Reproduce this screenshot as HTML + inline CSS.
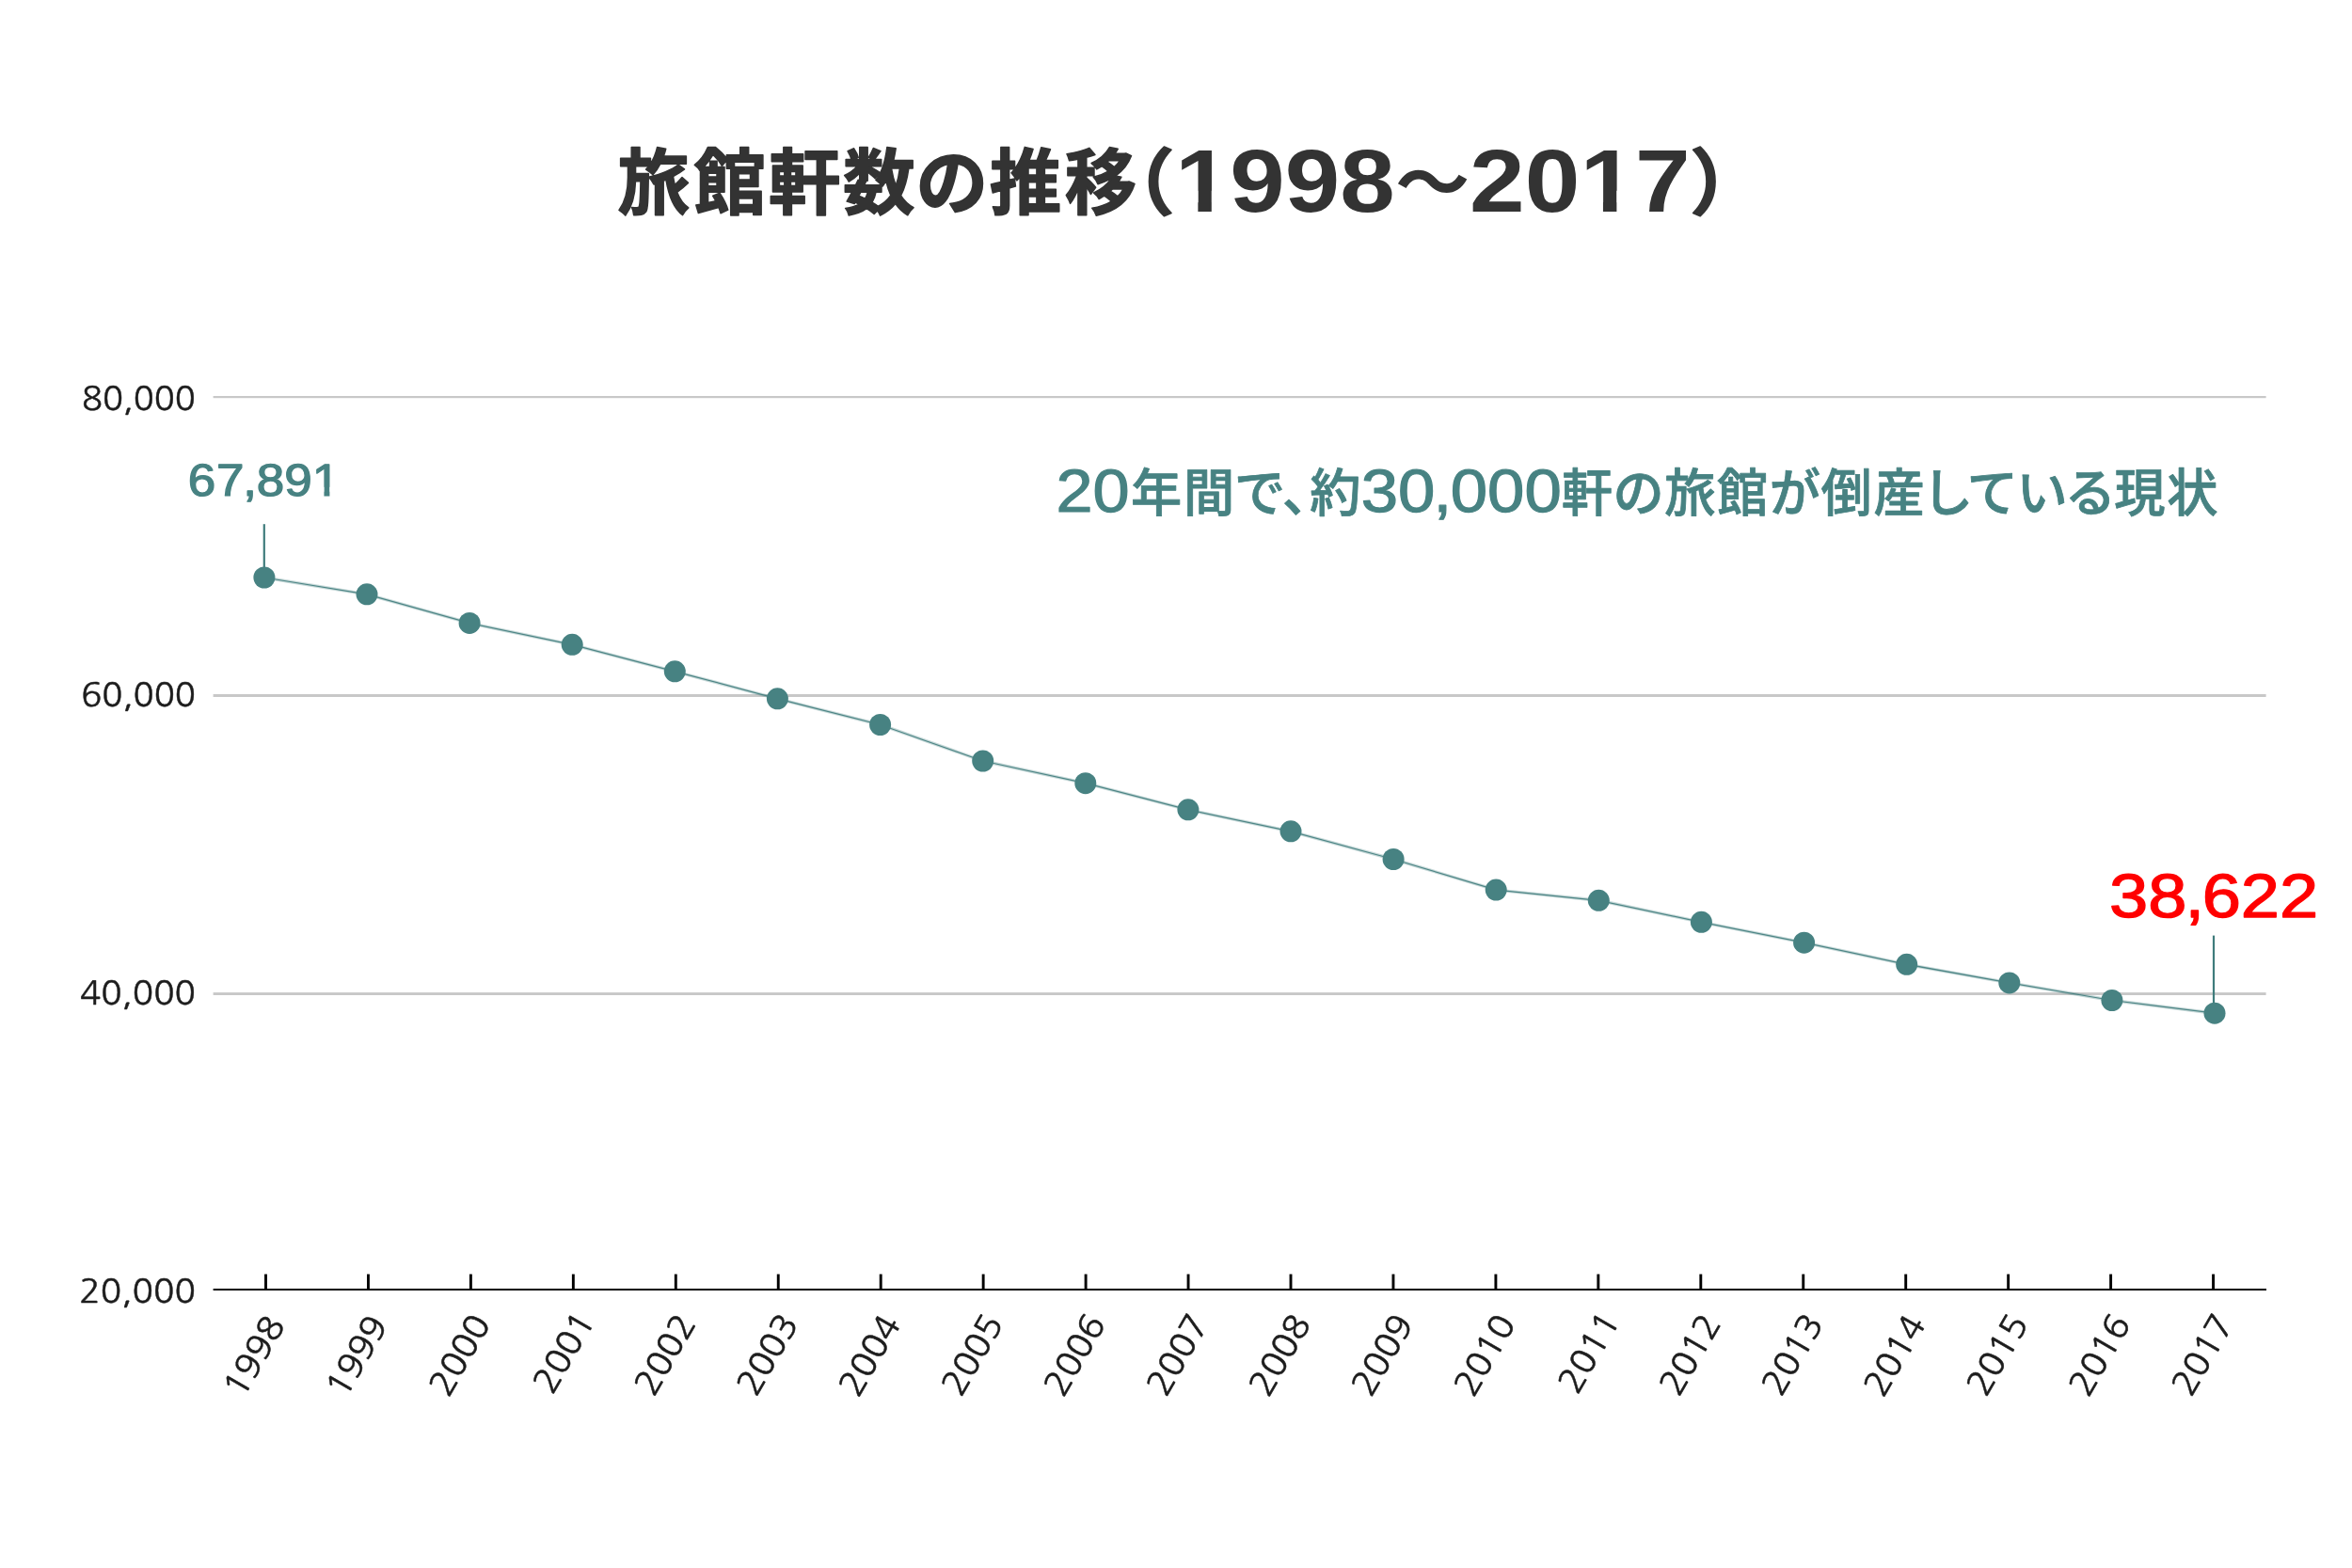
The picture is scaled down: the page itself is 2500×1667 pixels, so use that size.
<!DOCTYPE html>
<html lang="ja">
<head>
<meta charset="utf-8">
<title>旅館軒数の推移（1998〜2017）</title>
<style>
html,body{margin:0;padding:0;background:#fff}
body{width:2500px;height:1667px;overflow:hidden;font-family:"Liberation Sans","Noto Sans CJK JP",sans-serif}
svg{display:block}
text{white-space:pre;text-rendering:geometricPrecision}
</style>
</head>
<body>
<svg width="2500" height="1667" viewBox="0 0 2500 1667">
<defs><filter id="soft" x="-2%" y="-2%" width="104%" height="104%"><feGaussianBlur stdDeviation="0.75"/></filter><filter id="soft2" x="-5%" y="-20%" width="110%" height="140%"><feGaussianBlur stdDeviation="0.55"/></filter></defs>
<rect width="2500" height="1667" fill="#ffffff"/>
<g id="chart">
<g id="grid" fill="#c8c8c8">
<rect x="226.6" y="421.00" width="2182.0" height="2.20"/>
<rect x="226.6" y="738.00" width="2182.0" height="3.00"/>
<rect x="226.6" y="1055.10" width="2182.0" height="2.90"/>
</g>
<g id="axis" fill="#000000">
<rect x="226.6" y="1370.0" width="2182.4" height="1.95"/>
<rect x="281.05" y="1354.6" width="2.9" height="16.4"/>
<rect x="390.00" y="1354.6" width="2.9" height="16.4"/>
<rect x="498.95" y="1354.6" width="2.9" height="16.4"/>
<rect x="607.90" y="1354.6" width="2.9" height="16.4"/>
<rect x="716.85" y="1354.6" width="2.9" height="16.4"/>
<rect x="825.80" y="1354.6" width="2.9" height="16.4"/>
<rect x="934.75" y="1354.6" width="2.9" height="16.4"/>
<rect x="1043.70" y="1354.6" width="2.9" height="16.4"/>
<rect x="1152.65" y="1354.6" width="2.9" height="16.4"/>
<rect x="1261.60" y="1354.6" width="2.9" height="16.4"/>
<rect x="1370.55" y="1354.6" width="2.9" height="16.4"/>
<rect x="1479.50" y="1354.6" width="2.9" height="16.4"/>
<rect x="1588.45" y="1354.6" width="2.9" height="16.4"/>
<rect x="1697.40" y="1354.6" width="2.9" height="16.4"/>
<rect x="1806.35" y="1354.6" width="2.9" height="16.4"/>
<rect x="1915.30" y="1354.6" width="2.9" height="16.4"/>
<rect x="2024.25" y="1354.6" width="2.9" height="16.4"/>
<rect x="2133.20" y="1354.6" width="2.9" height="16.4"/>
<rect x="2242.15" y="1354.6" width="2.9" height="16.4"/>
<rect x="2351.10" y="1354.6" width="2.9" height="16.4"/>
</g>
<polyline points="280.9,614.0 390.0,631.8 499.1,662.4 608.2,685.3 717.3,713.8 826.4,742.8 935.6,770.5 1044.7,809.0 1153.8,832.7 1262.9,860.8 1372.0,883.8 1481.1,913.5 1590.2,946.1 1699.3,957.3 1808.4,980.3 1917.6,1002.2 2026.7,1025.3 2135.8,1044.9 2244.9,1063.5 2354.0,1077.2" fill="none" stroke="#478282" stroke-width="3.4" stroke-opacity="0.30" filter="url(#soft)"/>
<polyline points="280.9,614.0 390.0,631.8 499.1,662.4 608.2,685.3 717.3,713.8 826.4,742.8 935.6,770.5 1044.7,809.0 1153.8,832.7 1262.9,860.8 1372.0,883.8 1481.1,913.5 1590.2,946.1 1699.3,957.3 1808.4,980.3 1917.6,1002.2 2026.7,1025.3 2135.8,1044.9 2244.9,1063.5 2354.0,1077.2" fill="none" stroke="#3f7c7c" stroke-width="1.25" stroke-opacity="0.9"/>
<g stroke="#3f7c7c" stroke-width="2.2">
<line x1="280.8" y1="557.2" x2="280.8" y2="614.0"/>
<line x1="2353" y1="994.6" x2="2353" y2="1077.2"/>
</g>
<g fill="#478282" filter="url(#soft)">
<circle cx="280.9" cy="614.0" r="11.5"/>
<circle cx="390.0" cy="631.8" r="11.5"/>
<circle cx="499.1" cy="662.4" r="11.5"/>
<circle cx="608.2" cy="685.3" r="11.5"/>
<circle cx="717.3" cy="713.8" r="11.5"/>
<circle cx="826.4" cy="742.8" r="11.5"/>
<circle cx="935.6" cy="770.5" r="11.5"/>
<circle cx="1044.7" cy="809.0" r="11.5"/>
<circle cx="1153.8" cy="832.7" r="11.5"/>
<circle cx="1262.9" cy="860.8" r="11.5"/>
<circle cx="1372.0" cy="883.8" r="11.5"/>
<circle cx="1481.1" cy="913.5" r="11.5"/>
<circle cx="1590.2" cy="946.1" r="11.5"/>
<circle cx="1699.3" cy="957.3" r="11.5"/>
<circle cx="1808.4" cy="980.3" r="11.5"/>
<circle cx="1917.6" cy="1002.2" r="11.5"/>
<circle cx="2026.7" cy="1025.3" r="11.5"/>
<circle cx="2135.8" cy="1044.9" r="11.5"/>
<circle cx="2244.9" cy="1063.5" r="11.5"/>
<circle cx="2354.0" cy="1077.2" r="11.5"/>
</g>
</g>
<g id="ylabels" filter="url(#soft2)">
<g transform="translate(86.89 436.38) scale(0.3629 0.3481)"><text font-family='"NanumGothic", "Liberation Sans", sans-serif' font-weight="400" font-size="100" fill="#1c1c1c" stroke="#1c1c1c" stroke-width="1.41" stroke-linejoin="round">80,000</text></g>
<g transform="translate(86.21 750.78) scale(0.3650 0.3481)"><text font-family='"NanumGothic", "Liberation Sans", sans-serif' font-weight="400" font-size="100" fill="#1c1c1c" stroke="#1c1c1c" stroke-width="1.40" stroke-linejoin="round">60,000</text></g>
<g transform="translate(84.88 1067.88) scale(0.3690 0.3481)"><text font-family='"NanumGothic", "Liberation Sans", sans-serif' font-weight="400" font-size="100" fill="#1c1c1c" stroke="#1c1c1c" stroke-width="1.39" stroke-linejoin="round">40,000</text></g>
<g transform="translate(84.36 1385.08) scale(0.3706 0.3481)"><text font-family='"NanumGothic", "Liberation Sans", sans-serif' font-weight="400" font-size="100" fill="#1c1c1c" stroke="#1c1c1c" stroke-width="1.39" stroke-linejoin="round">20,000</text></g>
</g>
<g id="xlabels" filter="url(#soft2)" stroke="#1c1c1c" stroke-width="1.4" font-family='"NanumGothic", "Liberation Sans", sans-serif' font-size="100" fill="#1c1c1c">
<text transform="translate(270.20 1440.20) rotate(-60) translate(-47.50 13.32) scale(0.3785 0.3576)">1998</text>
<text transform="translate(379.15 1440.20) rotate(-60) translate(-47.41 13.32) scale(0.3785 0.3576)">1999</text>
<text transform="translate(488.10 1440.20) rotate(-60) translate(-45.99 13.32) scale(0.3785 0.3576)">2000</text>
<text transform="translate(597.05 1440.20) rotate(-60) translate(-42.49 13.32) scale(0.3785 0.3576)">2001</text>
<text transform="translate(706.00 1440.20) rotate(-60) translate(-45.23 13.32) scale(0.3785 0.3576)">2002</text>
<text transform="translate(814.95 1440.20) rotate(-60) translate(-45.33 13.32) scale(0.3785 0.3576)">2003</text>
<text transform="translate(923.90 1440.20) rotate(-60) translate(-46.37 13.32) scale(0.3785 0.3576)">2004</text>
<text transform="translate(1032.85 1440.20) rotate(-60) translate(-45.61 13.32) scale(0.3785 0.3576)">2005</text>
<text transform="translate(1141.80 1440.20) rotate(-60) translate(-45.99 13.32) scale(0.3785 0.3576)">2006</text>
<text transform="translate(1250.75 1440.20) rotate(-60) translate(-45.52 13.32) scale(0.3785 0.3576)">2007</text>
<text transform="translate(1359.70 1440.20) rotate(-60) translate(-45.99 13.32) scale(0.3785 0.3576)">2008</text>
<text transform="translate(1468.65 1440.20) rotate(-60) translate(-45.89 13.32) scale(0.3785 0.3576)">2009</text>
<text transform="translate(1577.60 1440.20) rotate(-60) translate(-45.99 13.32) scale(0.3785 0.3576)">2010</text>
<text transform="translate(1686.55 1440.20) rotate(-60) translate(-42.49 13.32) scale(0.3785 0.3576)">2011</text>
<text transform="translate(1795.50 1440.20) rotate(-60) translate(-45.23 13.32) scale(0.3785 0.3576)">2012</text>
<text transform="translate(1904.45 1440.20) rotate(-60) translate(-45.33 13.32) scale(0.3785 0.3576)">2013</text>
<text transform="translate(2013.40 1440.20) rotate(-60) translate(-46.37 13.32) scale(0.3785 0.3576)">2014</text>
<text transform="translate(2122.35 1440.20) rotate(-60) translate(-45.61 13.32) scale(0.3785 0.3576)">2015</text>
<text transform="translate(2231.30 1440.20) rotate(-60) translate(-45.99 13.32) scale(0.3785 0.3576)">2016</text>
<text transform="translate(2340.25 1440.20) rotate(-60) translate(-45.52 13.32) scale(0.3785 0.3576)">2017</text>
</g>
<g id="title">
<g transform="translate(656.53 222.19) scale(0.7654 0.7708)"><text font-family='"Noto Sans CJK JP", "Liberation Sans", sans-serif' font-weight="700" font-size="100" fill="#333333" stroke="#333333" stroke-width="1.95" stroke-linejoin="round" style="font-feature-settings:'palt'" dx="0.00 1.60 -0.50 -0.50 -3.00 -0.60 0.40" letter-spacing="4.127">旅館軒数の推移</text></g>
<g transform="translate(1167.98 221.87) scale(0.8065 0.7663)"><text font-family='"Noto Sans CJK JP", "Liberation Sans", sans-serif' font-weight="700" font-size="100" fill="#333333" stroke="#333333" stroke-width="2.03" stroke-linejoin="round">（</text></g>
<g transform="translate(1248.89 225.05) scale(1.0511 0.9465)"><text font-family='"Liberation Sans", "Noto Sans CJK JP", sans-serif' font-weight="700" font-size="100" fill="#333333">1998</text><rect x="1.20" y="-23.50" width="22.10" height="27.50" fill="#fff"/><rect x="37.00" y="-23.50" width="20.70" height="27.50" fill="#fff"/></g>
<g transform="translate(1482.93 223.25) scale(0.7924 0.7933)"><text font-family='"Noto Sans CJK JP", "Liberation Sans", sans-serif' font-weight="700" font-size="100" fill="#333333">〜</text></g>
<g transform="translate(1562.11 225.05) scale(1.0545 0.9465)"><text font-family='"Liberation Sans", "Noto Sans CJK JP", sans-serif' font-weight="700" font-size="100" fill="#333333">2017</text><rect x="112.40" y="-23.50" width="22.10" height="27.50" fill="#fff"/><rect x="148.20" y="-23.50" width="20.70" height="27.50" fill="#fff"/></g>
<g transform="translate(1796.09 221.87) scale(0.8032 0.7663)"><text font-family='"Noto Sans CJK JP", "Liberation Sans", sans-serif' font-weight="700" font-size="100" fill="#333333" stroke="#333333" stroke-width="2.04" stroke-linejoin="round">）</text></g>
</g>
<g id="subtitle">
<g transform="translate(1122.39 544.11) scale(0.7019 0.6428)"><text font-family='"Liberation Sans", "Noto Sans CJK JP", sans-serif' font-weight="400" font-size="100" fill="#478282" stroke="#478282" stroke-width="1.78" stroke-linejoin="round">20</text></g>
<g transform="translate(1202.10 543.81) scale(0.5417 0.5545)"><text font-family='"Noto Sans CJK JP", "Liberation Sans", sans-serif' font-weight="500" font-size="100" fill="#478282" stroke="#478282" stroke-width="1.46" stroke-linejoin="round" style="font-feature-settings:'palt'" letter-spacing="3.161">年間で、約</text></g>
<g transform="translate(1446.68 544.11) scale(0.7069 0.6428)"><text font-family='"Liberation Sans", "Noto Sans CJK JP", sans-serif' font-weight="400" font-size="100" fill="#478282" stroke="#478282" stroke-width="1.78" stroke-linejoin="round" dx="0.00 0.00 -2.50 -2.00 0.00 0.00">30,000</text></g>
<g transform="translate(1659.67 543.81) scale(0.5417 0.5545)"><text font-family='"Noto Sans CJK JP", "Liberation Sans", sans-serif' font-weight="500" font-size="100" fill="#478282" stroke="#478282" stroke-width="1.46" stroke-linejoin="round" style="font-feature-settings:'palt'" letter-spacing="3.007">軒の旅館が倒産している現状</text></g>
</g>
<g id="values">
<g transform="translate(199.78 527.13) scale(0.5304 0.4836)"><text font-family='"Liberation Sans", "Noto Sans CJK JP", sans-serif' font-weight="400" font-size="100" fill="#478282" stroke="#478282" stroke-width="2.56" stroke-linejoin="round" dx="0.00 1.50 -2.50 -0.50 0.00 0.00">67,891</text><rect x="249.92" y="-19.28" width="22.80" height="24.56" fill="#fff"/><rect x="283.98" y="-19.28" width="22.98" height="24.56" fill="#fff"/></g>
<g transform="translate(2242.08 974.59) scale(0.7403 0.6548)"><text font-family='"Liberation Sans", "Noto Sans CJK JP", sans-serif' font-weight="400" font-size="100" fill="#ff0000" stroke="#ff0000" stroke-width="2.01" stroke-linejoin="round" dx="0.00 0.00 -2.50 -3.40 0.00 0.00">38,622</text></g>
</g>
</svg>
</body>
</html>
